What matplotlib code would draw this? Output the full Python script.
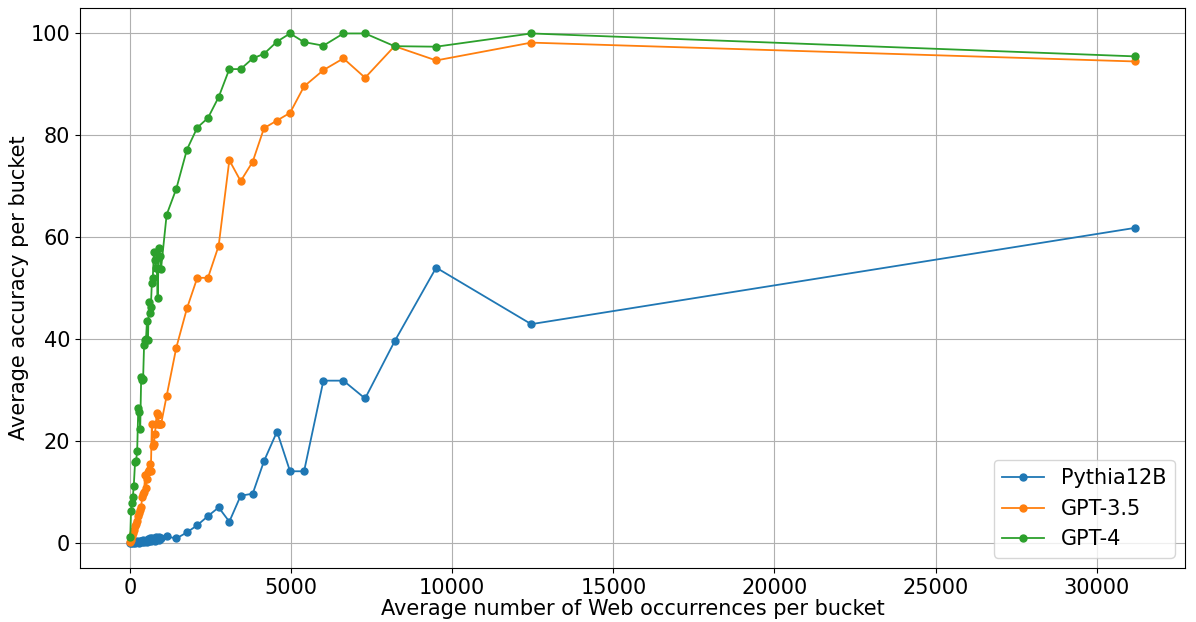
import numpy as np
import matplotlib
matplotlib.use("Agg")
import matplotlib.pyplot as plt

# average web occurrences per bucket (shared by all models)
occurrences = [10, 35, 65, 90, 120, 160, 190, 225, 260, 290, 320, 350, 380, 410,
               440, 470, 500, 530, 560, 590, 620, 650, 680, 710, 745, 775, 805,
               835, 860, 890, 910, 935, 965,
               1140, 1440, 1770, 2090, 2422, 2754, 3085, 3437, 3810, 4161, 4565,
               4969, 5404, 6004, 6625, 7298, 8211, 9503, 12453, 31180]

pythia12b = [0.0, 0.0, 0.1, 0.0, 0.2, 0.0, 0.1, 0.3, 0.2, 0.0, 0.4, 0.3, 0.1, 0.5,
             0.2, 0.4, 0.3, 0.1, 0.6, 0.3, 0.8, 0.4, 0.9, 0.5, 0.7, 0.4, 1.0,
             0.6, 0.9, 0.5, 1.1, 0.7, 0.9,
             1.2, 0.8, 2.0, 3.4, 5.2, 6.9, 4.1, 9.2, 9.6, 16.0, 21.8,
             14.0, 14.0, 31.8, 31.8, 28.3, 39.5, 54.0, 42.9, 61.8]

gpt35 = [0.2, 0.5, 1.2, 1.8, 2.4, 3.2, 3.7, 4.3, 5.3, 5.8, 6.4, 7.0, 9.0, 9.6,
         10.0, 13.2, 10.7, 12.5, 13.8, 14.3, 15.5, 14.0, 23.2, 18.9, 19.4, 21.3, 23.2,
         25.5, 25.0, 23.2, 23.3, 23.2, 23.2,
         28.8, 38.3, 46.0, 52.0, 52.0, 58.3, 75.1, 71.0, 74.8, 81.4, 82.9,
         84.4, 89.6, 92.8, 95.1, 91.3, 97.5, 94.7, 98.2, 94.5]

gpt4 = [1.0, 6.1, 7.8, 8.9, 11.1, 15.8, 16.0, 17.9, 26.5, 25.6, 22.4, 32.5, 32.0, 32.2,
        38.9, 39.8, 40.0, 43.6, 39.8, 47.3, 45.1, 46.2, 51.0, 52.0, 57.1, 55.5, 54.0,
        53.9, 48.1, 56.0, 57.8, 56.2, 53.7,
        64.4, 69.5, 77.2, 81.5, 83.4, 87.5, 93.0, 93.0, 95.1, 96.0, 98.4,
        100.0, 98.3, 97.6, 100.0, 100.0, 97.5, 97.4, 100.0, 95.5]

plt.rcParams['font.size'] = 15

fig = plt.figure(figsize=(11.96, 6.22), dpi=100)
ax = fig.add_axes([80 / 1196, 1 - 568 / 622, (1185 - 80) / 1196, (568 - 8) / 622])

ax.plot(occurrences, pythia12b, marker='o', ms=5, lw=1.3, label='Pythia12B')
ax.plot(occurrences, gpt35, marker='o', ms=5, lw=1.3, label='GPT-3.5')
ax.plot(occurrences, gpt4, marker='o', ms=5, lw=1.3, label='GPT-4')

ax.set_xlabel('Average number of Web occurrences per bucket', labelpad=1)
ax.set_ylabel('Average accuracy per bucket', labelpad=1)
ax.grid(True)
ax.legend(loc='lower right')

fig.savefig("out.png", dpi=100)
